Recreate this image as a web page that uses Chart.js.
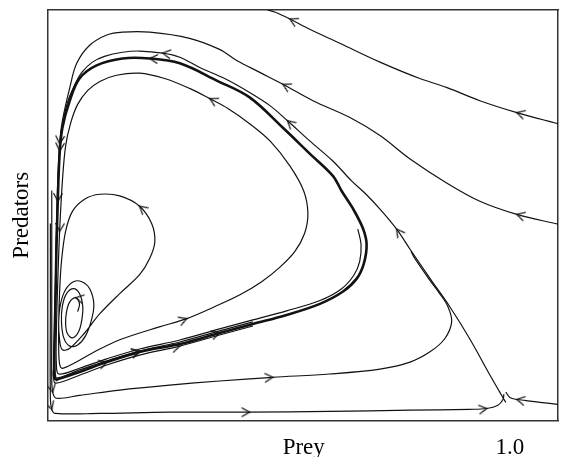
<!DOCTYPE html>
<html>
<head>
<meta charset="utf-8">
<script src="https://cdn.jsdelivr.net/npm/chart.js@4.4.1/dist/chart.umd.min.js"></script>
<style>
  html, body { margin: 0; padding: 0; background: #fff; }
</style>
</head>
<body>
<canvas id="phase" width="561" height="457"></canvas>
<script>
// prey on x (1.0 = carrying capacity), predators on y (0..1 of plot height)
const xTickValues = [0.554, 1.0];
const xTickLabels = ['Prey', '1.0'];

// the stable limit cycle (drawn heavy)
const limitCycle = [
  [0.017,0.098],[0.069,0.118],[0.128,0.142],[0.199,0.167],[0.286,0.186],[0.372,0.213],
  [0.444,0.235],[0.517,0.257],[0.589,0.284],[0.639,0.314],[0.669,0.346],[0.684,0.382],
  [0.690,0.429],[0.682,0.468],[0.660,0.517],[0.636,0.559],[0.617,0.596],[0.567,0.650],
  [0.509,0.713],[0.437,0.787],[0.366,0.828],[0.286,0.870],[0.221,0.882],[0.162,0.882],
  [0.106,0.865],[0.069,0.833],[0.048,0.779],[0.032,0.713],[0.026,0.650],[0.022,0.534],
  [0.019,0.412],[0.017,0.289],[0.015,0.191],[0.015,0.118],[0.017,0.098]
];
// spiral out of the inner equilibrium towards the cycle
const innerPath = [
  [0.065,0.265],[0.069,0.284],[0.061,0.299],[0.048,0.289],[0.041,0.265],[0.039,0.235],
  [0.043,0.211],[0.054,0.201],[0.067,0.216],[0.074,0.245],[0.076,0.279],[0.069,0.309],
  [0.056,0.321],[0.041,0.309],[0.032,0.279],[0.030,0.240],[0.035,0.201],[0.048,0.181],
  [0.065,0.184],[0.082,0.206],[0.095,0.245],[0.100,0.284],[0.091,0.321],[0.074,0.338],
  [0.056,0.338],[0.039,0.319],[0.028,0.284],[0.024,0.240],[0.026,0.196],[0.032,0.172],
  [0.048,0.176],[0.080,0.213],[0.113,0.260],[0.156,0.309],[0.199,0.355],[0.221,0.395],
  [0.232,0.436],[0.225,0.480],[0.199,0.522],[0.156,0.547],[0.113,0.551],[0.080,0.539],
  [0.054,0.510],[0.039,0.461],[0.030,0.387],[0.026,0.314],[0.024,0.240],[0.024,0.179],
  [0.026,0.137],[0.032,0.127],
  [0.058,0.140],[0.113,0.174],[0.162,0.199],[0.242,0.228],[0.301,0.248],[0.361,0.277],
  [0.416,0.306],[0.463,0.338],[0.502,0.373],[0.535,0.412],[0.556,0.456],[0.563,0.505],
  [0.554,0.559],[0.524,0.620],[0.481,0.681],[0.437,0.723],[0.390,0.760],[0.351,0.784],
  [0.307,0.809],[0.253,0.833],[0.199,0.846],[0.149,0.841],[0.113,0.826],[0.087,0.804],
  [0.065,0.770],[0.050,0.725],[0.039,0.669],[0.032,0.583],[0.026,0.461],[0.022,0.338],
  [0.019,0.216],[0.019,0.137],[0.024,0.113],[0.069,0.127],[0.128,0.150],[0.199,0.174],
  [0.286,0.196],[0.372,0.223],[0.444,0.245],[0.517,0.267],[0.589,0.292],[0.636,0.321],
  [0.662,0.353],[0.675,0.387],[0.678,0.429],[0.671,0.466]
];
// unstable branch leaving the saddle at (1, 0)
const separatrix = [
  [0.991,0.044],[0.978,0.069],[0.957,0.110],[0.913,0.199],[0.870,0.277],[0.827,0.346],
  [0.784,0.417],[0.755,0.466],[0.719,0.515],[0.686,0.554],[0.658,0.583],[0.617,0.632],
  [0.567,0.681],[0.519,0.730],[0.481,0.767],[0.437,0.799],[0.383,0.833],[0.329,0.860],
  [0.286,0.885],[0.249,0.895],[0.199,0.900],[0.162,0.897],[0.123,0.887],[0.097,0.873],
  [0.074,0.848],[0.058,0.816],[0.043,0.775],[0.032,0.718],[0.026,0.657],[0.022,0.559],
  [0.019,0.436],[0.017,0.314],[0.015,0.191],[0.013,0.113],[0.017,0.091],[0.069,0.110],
  [0.128,0.135],[0.199,0.159],[0.286,0.181],[0.372,0.208],[0.444,0.230]
];
const topRight = [
  [1.104,0.723],[1.015,0.750],[0.935,0.779],[0.864,0.811],[0.805,0.833],[0.719,0.873],
  [0.632,0.919],[0.567,0.953],[0.524,0.978],[0.491,0.995],[0.476,1.000]
];
const fromRight = [
  [1.104,0.478],[1.015,0.502],[0.935,0.534],[0.864,0.578],[0.784,0.637],[0.719,0.694],
  [0.654,0.738],[0.574,0.779],[0.509,0.819],[0.459,0.848],[0.409,0.877],[0.372,0.904],
  [0.307,0.931],[0.221,0.946],[0.162,0.946],[0.128,0.939],[0.091,0.914],[0.063,0.870],
  [0.048,0.811],[0.032,0.730],[0.026,0.674],[0.022,0.583],[0.019,0.461],[0.017,0.338],
  [0.015,0.216],[0.013,0.130],[0.015,0.103],[0.069,0.123],[0.128,0.145],[0.199,0.169],
  [0.286,0.191],[0.372,0.218],[0.444,0.240]
];
const lowLoop = [
  [0.009,0.560],[0.009,0.412],[0.009,0.216],[0.009,0.105],[0.011,0.069],
  [0.019,0.054],[0.069,0.061],[0.156,0.074],[0.264,0.086],[0.372,0.096],[0.487,0.105],
  [0.610,0.113],[0.719,0.125],[0.784,0.142],[0.827,0.167],[0.859,0.199],[0.874,0.240],
  [0.866,0.277],[0.848,0.309],[0.827,0.341],[0.794,0.395],[0.786,0.412]
];
const bottomRun = [
  [0.006,0.480],[0.006,0.289],[0.006,0.056],[0.009,0.027],[0.017,0.017],[0.113,0.017],
  [0.264,0.020],[0.437,0.020],[0.610,0.022],[0.784,0.025],[0.913,0.027],[0.950,0.029],
  [0.974,0.037],[0.985,0.051],[0.987,0.064]
];
const saddleIn = [
  [1.104,0.039],[1.065,0.044],[1.032,0.049],[1.015,0.051],[1.000,0.056],[0.991,0.069]
];

// which points carry a direction arrow
const arrowsCycle = [2, 3, 5, 22, 29];
const arrowsInner = [2, 38, 54, 67, 78];
const arrowsSep = [7, 13, 19, 28, 38];
const arrowsTop = [1, 8];
const arrowsRight = [1, 8, 20, 29];
const arrowsLow = [4, 10];
const arrowsBottom = [3, 7, 11];
const arrowsSaddle = [3];

const ink = '#121212';
const serif = 'Liberation Serif';

// open chevron used as point marker
const chevron = document.createElement('canvas');
chevron.width = 20;
chevron.height = 20;
const cc = chevron.getContext('2d');
cc.strokeStyle = ink;
cc.lineWidth = 1.3;
cc.beginPath();
cc.moveTo(2, 5.5);
cc.lineTo(10, 10);
cc.lineTo(2, 14.5);
cc.stroke();

function curve(pts, arrows, width) {
  return {
    data: pts.map(p => ({x: p[0], y: p[1]})),
    showLine: true,
    borderColor: ink,
    borderWidth: width,
    tension: 0.35,
    pointStyle: chevron,
    pointRadius: ctx => arrows.includes(ctx.dataIndex) ? 6 : 0,
    pointHoverRadius: 0,
    pointRotation: ctx => {
      const d = ctx.dataset.data, i = ctx.dataIndex;
      if (i === undefined || !d[i]) return 0;
      const a = d[Math.max(i - 1, 0)], b = d[Math.min(i + 1, d.length - 1)];
      const sx = ctx.chart.scales.x, sy = ctx.chart.scales.y;
      const dx = sx.getPixelForValue(b.x) - sx.getPixelForValue(a.x);
      const dy = sy.getPixelForValue(b.y) - sy.getPixelForValue(a.y);
      return Math.atan2(dy, dx) * 180 / Math.PI;
    }
  };
}

const frame = {
  display: true,
  grid: {display: false, drawTicks: false},
  ticks: {display: false},
  border: {display: true, color: '#333', width: 1.5}
};

new Chart(document.getElementById('phase'), {
  type: 'scatter',
  data: {
    datasets: [
      curve(limitCycle, arrowsCycle, 2.6),
      curve(innerPath, arrowsInner, 1.2),
      curve(separatrix, arrowsSep, 1.2),
      curve(topRight, arrowsTop, 1.2),
      curve(fromRight, arrowsRight, 1.2),
      curve(lowLoop, arrowsLow, 1.2),
      curve(bottomRun, arrowsBottom, 1.2),
      curve(saddleIn, arrowsSaddle, 1.2)
    ]
  },
  options: {
    responsive: false,
    animation: false,
    events: [],
    layout: {padding: {left: 0, top: 10, right: 3, bottom: -19}},
    plugins: {legend: {display: false}, tooltip: {enabled: false}},
    scales: {
      x: {
        type: 'linear', position: 'bottom', min: 0, max: 1.104,
        grid: {display: false, drawTicks: false},
        border: {display: true, color: '#333', width: 1.5},
        afterBuildTicks: axis => { axis.ticks = xTickValues.map(v => ({value: v})); },
        ticks: {
          autoSkip: false, maxRotation: 0, padding: 14, color: '#000',
          font: {family: serif, size: 23},
          callback: v => xTickLabels[xTickValues.indexOf(v)]
        }
      },
      y: {
        type: 'linear', position: 'left', min: 0, max: 1,
        grid: {display: false, drawTicks: false},
        border: {display: true, color: '#333', width: 1.5},
        ticks: {display: false},
        title: {
          display: true, text: 'Predators', color: '#000',
          font: {family: serif, size: 23},
          padding: {top: 8, bottom: 12}
        }
      },
      x2: Object.assign({type: 'linear', position: 'top', min: 0, max: 1.104}, frame),
      y2: Object.assign({type: 'linear', position: 'right', min: 0, max: 1}, frame)
    }
  }
});
</script>
</body>
</html>
